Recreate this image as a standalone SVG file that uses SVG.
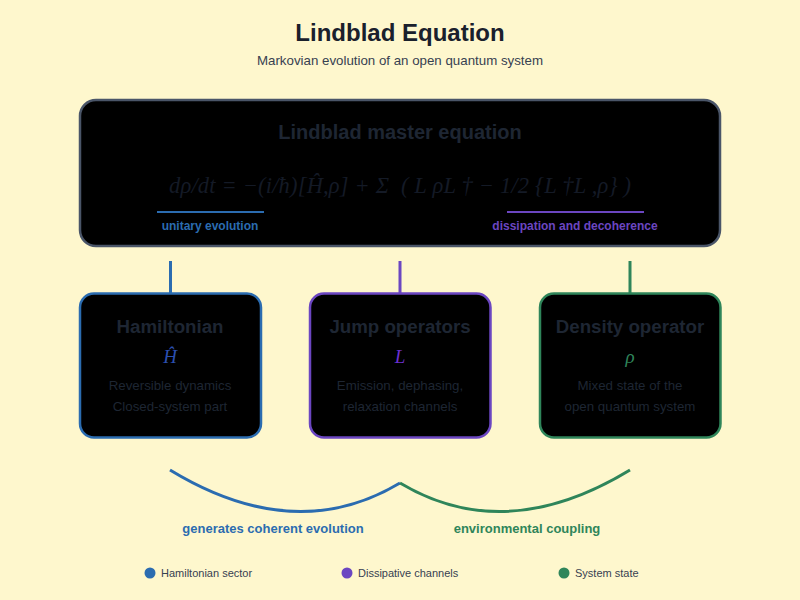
<svg xmlns="http://www.w3.org/2000/svg" width="800" height="600" viewBox="0 0 800 600">
  <style>
    .sans { font-family: "Liberation Sans", Arial, sans-serif; }
    .math { font-family: "Liberation Serif", "Times New Roman", serif; font-style: italic; }
    .box { fill: #000000; stroke-width: 2.5; }
    .ttl { font-weight: bold; font-size: 18.7px; fill: #1e2633; text-anchor: middle; }
    .desc { font-size: 13.3px; fill: #1e2633; text-anchor: middle; }
    .leg { font-size: 11px; fill: #374151; }
    .conn { fill: none; stroke-width: 3; }
  </style>
  <rect width="800" height="600" fill="#fef7cd"/>

  <g id="title">
    <text class="sans" x="400" y="41" text-anchor="middle" font-size="24" font-weight="bold" fill="#1a202c">Lindblad Equation</text>
    <text class="sans" x="400" y="65" text-anchor="middle" font-size="13.3" fill="#374151">Markovian evolution of an open quantum system</text>
  </g>

  <g id="master">
    <rect class="box" x="80" y="100" width="640" height="146" rx="16" stroke="#4a5568" stroke-width="2"/>
    <text class="sans" x="400" y="139" text-anchor="middle" font-size="20" font-weight="bold" fill="#1e2633">Lindblad master equation</text>
    <text class="math" x="169" y="193" font-size="22.5" fill="#141a26" xml:space="preserve" textLength="462" lengthAdjust="spacing">dρ/dt = −(i/ħ)[Ĥ,ρ] + Σ  ( L ρL † − 1/2 {L †L ,ρ} )</text>
    <line x1="157" y1="212" x2="264" y2="212" stroke="#2b6cb0" stroke-width="2"/>
    <text class="sans" x="210" y="230" text-anchor="middle" font-size="12" font-weight="bold" fill="#2b6cb0">unitary evolution</text>
    <line x1="507" y1="212" x2="644" y2="212" stroke="#6b46c1" stroke-width="2"/>
    <text class="sans" x="575" y="230" text-anchor="middle" font-size="12" font-weight="bold" fill="#6b46c1">dissipation and decoherence</text>
  </g>

  <g id="connectors">
    <line class="conn" x1="170.5" y1="261" x2="170.5" y2="294" stroke="#2b6cb0"/>
    <line class="conn" x1="400" y1="261" x2="400" y2="294" stroke="#6b46c1"/>
    <line class="conn" x1="630" y1="261" x2="630" y2="294" stroke="#2f855a"/>
    <path class="conn" d="M170 470 Q295 546 400 483" stroke="#2b6cb0"/>
    <path class="conn" d="M400 483 Q505 546 630 470" stroke="#2f855a"/>
    <text class="sans" x="273" y="533" text-anchor="middle" font-size="13" font-weight="bold" fill="#2b6cb0">generates coherent evolution</text>
    <text class="sans" x="527" y="533" text-anchor="middle" font-size="13" font-weight="bold" fill="#2f855a">environmental coupling</text>
  </g>

  <g id="hamiltonian">
    <rect class="box" x="80" y="293.5" width="181" height="144" rx="14" stroke="#2b6cb0"/>
    <text class="sans ttl" x="170" y="333">Hamiltonian</text>
    <text class="math" x="170" y="363" text-anchor="middle" font-size="19" fill="#2b4fb0">Ĥ</text>
    <text class="sans desc" x="170" y="390">Reversible dynamics</text>
    <text class="sans desc" x="170" y="411">Closed-system part</text>
  </g>

  <g id="jump">
    <rect class="box" x="310" y="293.5" width="180.5" height="144" rx="14" stroke="#6b46c1"/>
    <text class="sans ttl" x="400" y="333">Jump operators</text>
    <text class="math" x="400" y="363" text-anchor="middle" font-size="19" fill="#6b2fd0">L</text>
    <text class="sans desc" x="400" y="390">Emission, dephasing,</text>
    <text class="sans desc" x="400" y="411">relaxation channels</text>
  </g>

  <g id="density">
    <rect class="box" x="540" y="293.5" width="180.5" height="144" rx="14" stroke="#2f855a"/>
    <text class="sans ttl" x="630" y="333">Density operator</text>
    <text class="math" x="630" y="363" text-anchor="middle" font-size="19" fill="#2f855a">ρ</text>
    <text class="sans desc" x="630" y="390">Mixed state of the</text>
    <text class="sans desc" x="630" y="411">open quantum system</text>
  </g>

  <g id="legend">
    <circle cx="150" cy="573" r="5.5" fill="#2b6cb0"/>
    <text class="sans leg" x="161" y="577">Hamiltonian sector</text>
    <circle cx="347" cy="573" r="5.5" fill="#6b46c1"/>
    <text class="sans leg" x="358" y="577">Dissipative channels</text>
    <circle cx="564" cy="573" r="5.5" fill="#2f855a"/>
    <text class="sans leg" x="575" y="577">System state</text>
  </g>
</svg>
